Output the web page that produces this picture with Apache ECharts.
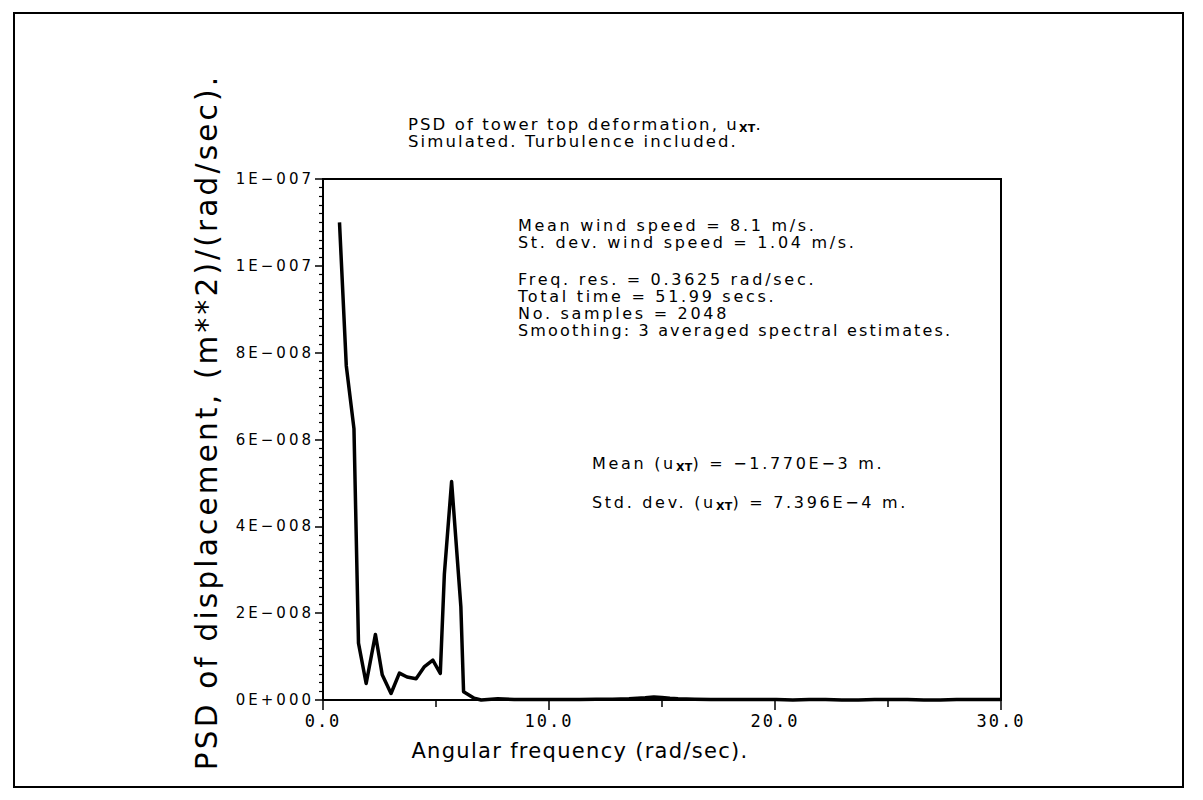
<!DOCTYPE html>
<html>
<head>
<meta charset="utf-8">
<script src="https://cdn.jsdelivr.net/npm/echarts@6/dist/echarts.min.js"></script>
<style>
  html, body { margin: 0; padding: 0; background: #fff; }
  #chart { width: 1203px; height: 800px; }
  #chart text { white-space: pre; }
</style>
</head>
<body>
<div id="chart"></div>
<script>
// Angular frequency (rad/sec) and PSD of tower-top displacement ((m**2)/(rad/sec))
const freqLow = [0.73, 1.03, 1.37, 1.57, 1.91, 2.32, 2.62, 3.01, 3.38, 3.72, 4.12,
                 4.49, 4.86, 5.19, 5.37, 5.69, 6.10, 6.22, 6.69, 7.00, 7.73];
const psdLow  = [1.10e-7, 7.7e-8, 6.25e-8, 1.31e-8, 3.8e-9, 1.51e-8, 5.8e-9, 1.5e-9, 6.2e-9, 5.3e-9, 4.9e-9,
                 7.7e-9, 9.2e-9, 6.1e-9, 2.9e-8, 5.03e-8, 2.15e-8, 1.9e-9, 4e-10, 0, 3e-10];
const freqHigh = [8.46, 9.18, 9.91, 10.64, 11.36, 12.09, 12.81, 13.54, 14.26, 14.64,
                  14.99, 15.35, 15.71, 16.44, 17.16, 17.89, 18.61, 19.34, 20.06, 20.79,
                  21.51, 22.24, 22.96, 23.69, 24.41, 25.14, 25.86, 26.59, 27.31, 28.04,
                  28.76, 29.49, 30.0];
const psdHigh  = [1e-10, 1e-10, 1e-10, 1e-10, 1e-10, 2e-10, 2e-10, 3e-10, 5e-10, 7e-10,
                  6e-10, 4e-10, 3e-10, 2e-10, 1e-10, 1e-10, 1e-10, 1e-10, 1e-10, 0,
                  1e-10, 1e-10, 0, 0, 1e-10, 1e-10, 1e-10, 0, 0, 1e-10,
                  1e-10, 1e-10, 1e-10];

const xTickLabels = ['0.0', '10.0', '20.0', '30.0'];
const yTickLabels = ['0E+000', '2E\u2212008', '4E\u2212008', '6E\u2212008', '8E\u2212008', '1E\u2212007', '1E\u2212007'];

const titleText = '{a|PSD of tower top deformation, u}{s|XT}{a|.}\n{a|Simulated. Turbulence included.}';
const windLines = ['Mean wind speed = 8.1 m/s.', 'St. dev. wind speed = 1.04 m/s.'];
const runLines = ['Freq. res. = 0.3625 rad/sec.', 'Total time = 51.99 secs.', 'No. samples = 2048'];
const smoothLine = 'Smoothing: 3 averaged spectral estimates.';
const meanText = '{t|Mean (u}{s|XT}{t|) = \u22121.770E\u22123 m.}';
const stdText = '{t|Std. dev. (u}{s|XT}{t|) = 7.396E\u22124 m.}';
const yTitle = 'PSD of displacement, (m**2)/(rad/sec).';
const xTitle = 'Angular frequency (rad/sec).';

// Pen-plotter lettering is set wide: extra advance (px) per character for each text group.
// The group is carried as a trailing generic name in the font family list.
const TRACKING = { zTitle: 2.1, zNote: 2.7, zNoteB: 2.15, zSub: 0.3, zYt: 3.2, zXt: 1.3, zYk: 3, zXk: 2 };
const fam = tag => 'DejaVu Sans, ' + tag;

const css = Object.keys(TRACKING)
  .map(tag => `#chart text[style*="${tag}"]{letter-spacing:${TRACKING[tag]}px;}`).join('\n');
document.head.appendChild(Object.assign(document.createElement('style'), { textContent: css }));

const findTag = font => Object.keys(TRACKING)
  .filter(k => (font || '').indexOf(k) >= 0)
  .sort((a, b) => b.length - a.length)[0];

const measureCtx = document.createElement('canvas').getContext('2d');
if (echarts.setPlatformAPI) {
  echarts.setPlatformAPI({
    measureText(text, font) {
      const str = String(text);
      measureCtx.font = font || '12px sans-serif';
      const tag = findTag(font);
      return { width: measureCtx.measureText(str).width + (tag ? TRACKING[tag] * str.length : 0) };
    }
  });
}
// the longer tag must win in the stylesheet as well
document.head.appendChild(Object.assign(document.createElement('style'),
  { textContent: `#chart text[style*="zNoteB"]{letter-spacing:${TRACKING.zNoteB}px;}` }));

const INK = '#000';
const psdAll = psdLow.concat(psdHigh);
const psdData = freqLow.concat(freqHigh).map((f, i) => [f, psdAll[i]]);

const chart = echarts.init(document.getElementById('chart'), null, { renderer: 'svg', width: 1203, height: 800 });

const subStyle = { fontSize: 11, fontWeight: 'bold', fontFamily: fam('zSub'), color: INK, lineHeight: 11, verticalAlign: 'bottom' };
const noteStyle = { fontSize: 16, fontWeight: 'normal', lineHeight: 20, fontFamily: fam('zNote'), color: INK };

chart.setOption({
  animation: false,
  backgroundColor: '#fff',
  title: {
    text: titleText,
    left: 408,
    top: 115.5,
    padding: 0,
    textStyle: {
      fontWeight: 'normal',
      rich: {
        a: { fontSize: 16.5, fontWeight: 'normal', fontFamily: fam('zTitle'), color: INK, lineHeight: 17 },
        s: Object.assign({}, subStyle, { padding: [0, 0, -2, 0] })
      }
    }
  },
  grid: {
    left: 323, top: 179, width: 678, height: 521,
    show: true, borderColor: INK, borderWidth: 2, backgroundColor: 'transparent'
  },
  xAxis: {
    type: 'value', min: 0, max: 30, interval: 10,
    axisLine: { show: true, onZero: false, lineStyle: { color: INK, width: 2 } },
    axisTick: { show: true, inside: false, length: 10, lineStyle: { color: INK, width: 1.5 } },
    minorTick: { show: true, splitNumber: 2, length: 7, lineStyle: { color: INK, width: 1.5 } },
    splitLine: { show: false }, minorSplitLine: { show: false },
    axisLabel: {
      margin: 11, color: INK, fontSize: 17, fontFamily: 'DejaVu Sans Mono, zXk',
      showMinLabel: true, showMaxLabel: true,
      formatter: v => xTickLabels[Math.round(v / 10)]
    }
  },
  yAxis: {
    type: 'value', min: 0, max: 1.2e-7, interval: 2e-8,
    axisLine: { show: true, onZero: false, lineStyle: { color: INK, width: 2 } },
    axisTick: { show: true, inside: false, length: 8, lineStyle: { color: INK, width: 1.5 } },
    minorTick: { show: true, splitNumber: 10, length: 4, lineStyle: { color: INK, width: 1.2 } },
    splitLine: { show: false }, minorSplitLine: { show: false },
    axisLabel: {
      margin: 9, color: INK, fontSize: 15, fontFamily: fam('zYk'),
      showMinLabel: true, showMaxLabel: true,
      formatter: v => yTickLabels[Math.round(v / 2e-8)]
    }
  },
  series: [{
    type: 'line',
    data: psdData,
    symbol: 'none',
    clip: false,
    silent: true,
    lineStyle: { color: INK, width: 3.5, join: 'round' }
  }],
  graphic: [
    { type: 'rect', silent: true, shape: { x: 14, y: 13, width: 1169, height: 774 },
      style: { fill: 'none', stroke: INK, lineWidth: 2 } },
    { type: 'text', silent: true, x: 207, y: 422, rotation: Math.PI / 2,
      style: { text: yTitle, fontSize: 29.5, fontFamily: fam('zYt'), fill: INK, align: 'center', verticalAlign: 'middle' } },
    { type: 'text', silent: true, x: 580, y: 751,
      style: { text: xTitle, fontSize: 21, fontFamily: fam('zXt'), fill: INK, align: 'center', verticalAlign: 'middle' } },
    { type: 'text', silent: true, x: 518, y: 217,
      style: { text: windLines.join('\n'), fontSize: 16, lineHeight: 17, fontFamily: fam('zNote'), fill: INK, align: 'left', verticalAlign: 'top' } },
    { type: 'text', silent: true, x: 518, y: 270.5,
      style: { text: runLines.join('\n'), fontSize: 16, lineHeight: 17, fontFamily: fam('zNote'), fill: INK, align: 'left', verticalAlign: 'top' } },
    { type: 'text', silent: true, x: 518, y: 321.5,
      style: { text: smoothLine, fontSize: 16, lineHeight: 17, fontFamily: fam('zNoteB'), fill: INK, align: 'left', verticalAlign: 'top' } },
    { type: 'text', silent: true, x: 592, y: 453,
      style: { text: meanText, align: 'left', verticalAlign: 'top', rich: { t: noteStyle, s: subStyle } } },
    { type: 'text', silent: true, x: 592, y: 492,
      style: { text: stdText, align: 'left', verticalAlign: 'top', rich: { t: noteStyle, s: subStyle } } }
  ]
});
</script>
</body>
</html>
